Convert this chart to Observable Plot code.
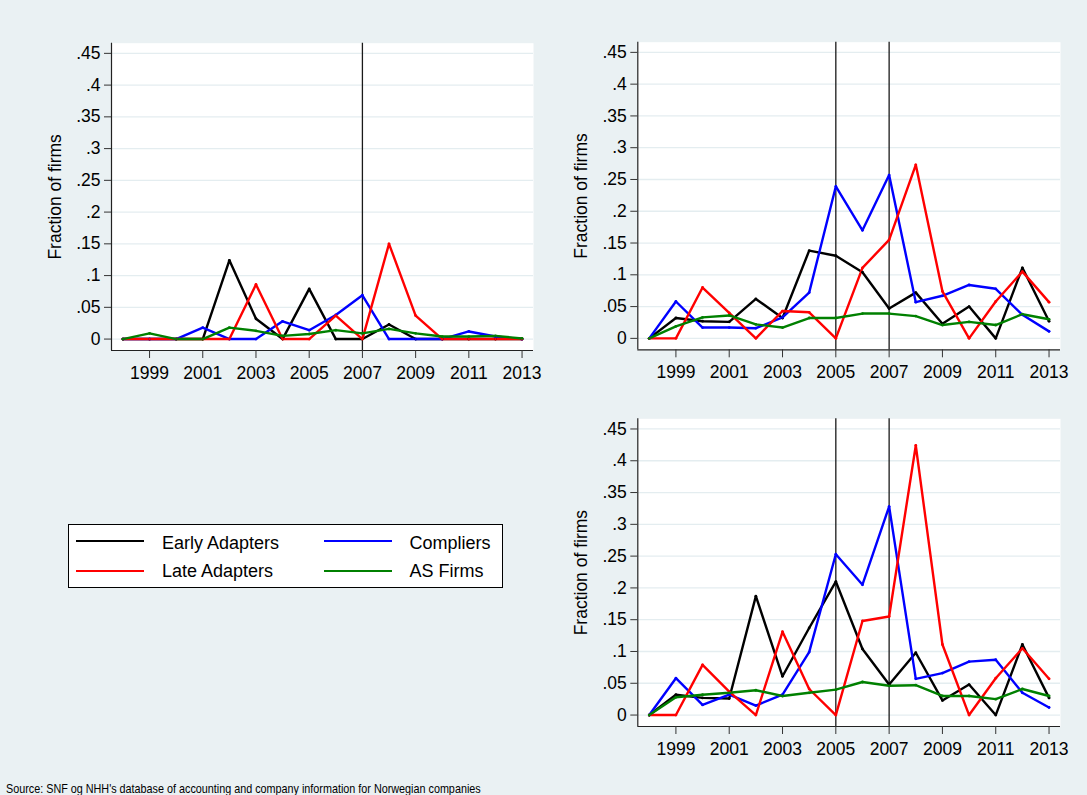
<!DOCTYPE html>
<html>
<head>
<meta charset="utf-8">
<script src="https://cdn.jsdelivr.net/npm/d3@7"></script>
<script src="https://cdn.jsdelivr.net/npm/@observablehq/plot@0.6"></script>
<style>
  html, body { margin: 0; padding: 0; background: #EAF1F3; }
  #page { position: relative; width: 1087px; height: 795px; background: #EAF1F3; overflow: hidden;
          font-family: "Liberation Sans", Arial, sans-serif; color: #000; }
  .panel { position: absolute; }
  #legend { position: absolute; left: 68px; top: 524px; width: 433px; height: 62px;
            border: 1px solid #000; background: #fff; }
  .key { position: absolute; width: 68px; height: 0; border-top: 2.5px solid; }
  .lab { position: absolute; font-size: 18px; line-height: 20px; white-space: nowrap; }
  #caption { position: absolute; left: 6px; top: 781px; font-size: 13px; line-height: 15px;
             white-space: nowrap; transform: scaleX(0.83); transform-origin: 0 0; }
</style>
</head>
<body>
<div id="page">
  <div id="p1" class="panel" style="left:0px;top:0px"></div>
  <div id="p2" class="panel" style="left:543px;top:0px"></div>
  <div id="p3" class="panel" style="left:543px;top:390px"></div>
  <div id="legend"></div>
  <div id="caption"></div>
</div>
<script>
// Years on the x axis and the four firm groups
const years = [1998, 1999, 2000, 2001, 2002, 2003, 2004, 2005, 2006, 2007, 2008, 2009, 2010, 2011, 2012, 2013];
const seriesNames = ["Early Adapters", "Compliers", "Late Adapters", "AS Firms"];
const xTicks = [1999, 2001, 2003, 2005, 2007, 2009, 2011, 2013];
const yTicks = [0, 0.05, 0.1, 0.15, 0.2, 0.25, 0.3, 0.35, 0.4, 0.45];
const yLabel = "Fraction of firms";
const sourceNote = "Source: SNF og NHH's database of accounting and company information for Norwegian companies";

// Top-left panel
const tlEarly     = [0, 0, 0, 0, 0.124, 0.032, 0, 0.079, 0, 0, 0.023, 0, 0, 0, 0, 0];
const tlCompliers = [0, 0, 0, 0.018, 0, 0, 0.028, 0.014, 0.038, 0.069, 0, 0, 0, 0.012, 0.004, 0];
const tlLate      = [0, 0, 0, 0, 0, 0.086, 0, 0, 0.037, 0, 0.150, 0.037, 0, 0, 0, 0];
const tlAS        = [0, 0.009, 0, 0, 0.018, 0.013, 0.005, 0.008, 0.014, 0.009, 0.016, 0.009, 0.004, 0.004, 0.005, 0.001];
const tlRefYears  = [2007];

// Top-right panel
const trEarly     = [0, 0.032, 0.027, 0.026, 0.062, 0.032, 0.138, 0.130, 0.104, 0.047, 0.072, 0.023, 0.050, 0, 0.111, 0.027];
const trCompliers = [0, 0.058, 0.017, 0.017, 0.016, 0.033, 0.072, 0.239, 0.170, 0.257, 0.057, 0.067, 0.084, 0.078, 0.037, 0.011];
const trLate      = [0, 0, 0.080, 0.040, 0, 0.043, 0.041, 0, 0.111, 0.155, 0.273, 0.074, 0, 0.058, 0.105, 0.057];
const trAS        = [0, 0.019, 0.033, 0.036, 0.022, 0.017, 0.032, 0.032, 0.039, 0.039, 0.035, 0.021, 0.026, 0.021, 0.038, 0.030];
const trRefYears  = [2005, 2007];

// Bottom-right panel
const brEarly     = [0, 0.032, 0.027, 0.026, 0.187, 0.061, 0.137, 0.210, 0.104, 0.048, 0.098, 0.023, 0.048, 0, 0.111, 0.027];
const brCompliers = [0, 0.058, 0.016, 0.032, 0.015, 0.032, 0.099, 0.253, 0.205, 0.328, 0.057, 0.066, 0.084, 0.087, 0.035, 0.012];
const brLate      = [0, 0, 0.079, 0.037, 0, 0.131, 0.041, 0, 0.148, 0.155, 0.424, 0.111, 0, 0.058, 0.105, 0.057];
const brAS        = [0, 0.028, 0.032, 0.035, 0.039, 0.030, 0.035, 0.040, 0.052, 0.046, 0.047, 0.030, 0.030, 0.025, 0.041, 0.030];
const brRefYears  = [2005, 2007];

const seriesColors = ["#000000", "#0000FF", "#FF0000", "#008000"];
const xDomain = [1997.57, 2013.43];
const yDomain = [-0.018, 0.466];
const fmtY = d => d === 0 ? "0" : d3.format(".2~f")(d).replace(/^0/, "");

function panel(sets, refYears, size) {
  const rows = [];
  seriesNames.forEach((name, i) =>
    years.forEach((yr, j) => rows.push({series: name, year: yr, value: sets[i][j]})));
  return Plot.plot({
    width: size.width, height: size.height,
    marginLeft: size.ml, marginRight: size.mr, marginTop: size.mt, marginBottom: size.mb,
    style: {background: "transparent", fontFamily: "'Liberation Sans', Arial, sans-serif",
            fontSize: "17.5px", color: "#000", overflow: "visible"},
    x: {domain: xDomain, axis: null},
    y: {domain: yDomain, axis: null},
    color: {domain: seriesNames, range: seriesColors},
    marks: [
      Plot.frame({fill: "white", stroke: null}),
      Plot.ruleY(yTicks, {stroke: "#E4EDF0", strokeWidth: 1.3}),
      Plot.ruleX(refYears, {stroke: "#1a1a1a", strokeWidth: 1.3}),
      Plot.ruleX([xDomain[0]], {stroke: "#222", strokeWidth: 1.2}),
      Plot.ruleY([yDomain[0]], {stroke: "#222", strokeWidth: 1.2}),
      Plot.axisY(yTicks, {label: null, tickSize: 7, tickPadding: 4, tickFormat: fmtY, stroke: "#333"}),
      Plot.axisX(xTicks, {label: null, tickSize: 8, tickPadding: 8, tickFormat: d => String(d), stroke: "#333"}),
      Plot.text([yLabel], {text: d => d, frameAnchor: "left", textAnchor: "middle", rotate: -90,
                           dx: -56, fontSize: 17.5}),
      Plot.line(rows, {x: "year", y: "value", z: "series", stroke: "series", strokeWidth: 2.4}),
      Plot.dot(rows, {x: "year", y: "value", fill: "series", r: 1.4})
    ]
  });
}

document.getElementById("p1").append(
  panel([tlEarly, tlCompliers, tlLate, tlAS], tlRefYears,
        {width: 543, height: 390, ml: 111, mr: 10, mt: 42.7, mb: 40}));
document.getElementById("p2").append(
  panel([trEarly, trCompliers, trLate, trAS], trRefYears,
        {width: 544, height: 390, ml: 94.3, mr: 27, mt: 41.7, mb: 40.7}));
document.getElementById("p3").append(
  panel([brEarly, brCompliers, brLate, brAS], brRefYears,
        {width: 544, height: 380, ml: 94.3, mr: 27, mt: 28.3, mb: 44}));

// Legend: two columns, filled row by row
const legend = document.getElementById("legend");
const legendOrder = ["Early Adapters", "Compliers", "Late Adapters", "AS Firms"];
legendOrder.forEach((name, k) => {
  const col = k % 2, row = Math.floor(k / 2);
  const color = seriesColors[seriesNames.indexOf(name)];
  const key = document.createElement("div");
  key.className = "key";
  key.style.left = (col ? 255 : 7) + "px";
  key.style.top = (row ? 44.5 : 15.3) + "px";
  key.style.borderTopColor = color;
  legend.append(key);
  const lab = document.createElement("div");
  lab.className = "lab";
  lab.textContent = name;
  lab.style.left = (col ? 340.5 : 93) + "px";
  lab.style.top = (row ? 36 : 7.5) + "px";
  legend.append(lab);
});

document.getElementById("caption").textContent = sourceNote;
</script>
</body>
</html>
